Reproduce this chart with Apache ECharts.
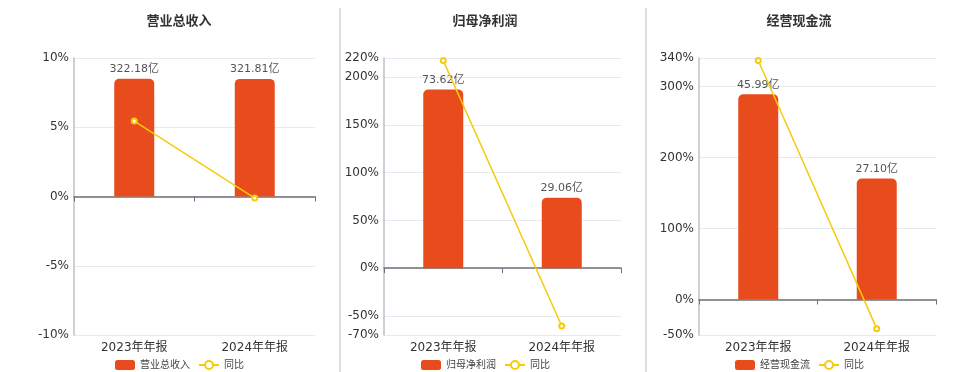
<!DOCTYPE html>
<html>
<head>
<meta charset="utf-8">
<script src="https://cdn.jsdelivr.net/npm/echarts@6/dist/echarts.min.js"></script>
<style>
html,body{margin:0;padding:0;background:#fff;}
#c{width:960px;height:372px;}
</style>
</head>
<body>
<div id="c"></div>
<script>
// ---- data ----
var categories = ['2023年年报', '2024年年报'];
var titles = ['营业总收入', '归母净利润', '经营现金流'];
var revenueValues = [322.18, 321.81];       // 亿
var netProfitValues = [73.62, 29.06];       // 亿
var cashFlowValues = [45.99, 27.10];        // 亿
var revenueYoY = [5.45, -0.11];             // %
var netProfitYoY = [217.3, -60.53];         // %
var cashFlowYoY = [336.5, -41.07];          // %
var pctAxisMin = [-10, -70, -50];
var pctAxisMax = [10, 220, 340];
var yoyName = '同比';

var barSets = [revenueValues, netProfitValues, cashFlowValues];
var yoySets = [revenueYoY, netProfitYoY, cashFlowYoY];

// ---- layout ----
var grids = [
  {left: 74, width: 241},
  {left: 384, width: 237},
  {left: 699, width: 237}
];
var centers = [174, 480, 794];
var legendLeft = [110, 416, 730];
var BAR = '#E94C1C', LINE = '#F5CB0C';
var FONT = "'DejaVu Sans', 'Noto Sans CJK SC', sans-serif";

var option = {
  animation: false,
  backgroundColor: '#fff',
  textStyle: {fontFamily: FONT},
  title: [], legend: [], grid: [], xAxis: [], yAxis: [], series: [],
  graphic: [
    {type: 'line', shape: {x1: 340, y1: 8, x2: 340, y2: 372}, style: {stroke: '#D3D3D3', lineWidth: 1.5}},
    {type: 'line', shape: {x1: 646, y1: 8, x2: 646, y2: 372}, style: {stroke: '#D3D3D3', lineWidth: 1.5}}
  ]
};

for (var i = 0; i < 3; i++) {
  var bars = barSets[i];
  var barMax = Math.max.apply(null, bars);
  var bMax = barMax / 0.85;
  var bMin = bMax * pctAxisMin[i] / pctAxisMax[i];

  option.title.push({
    text: titles[i], left: centers[i], top: 10, textAlign: 'center',
    textStyle: {fontSize: 13, fontWeight: 'bold', color: '#333', fontFamily: FONT}
  });
  option.legend.push({
    data: [titles[i], yoyName], left: legendLeft[i], top: 355,
    itemWidth: 20, itemHeight: 10, itemGap: 8,
    textStyle: {fontSize: 10, color: '#444'},
    selectedMode: false
  });
  option.grid.push({left: grids[i].left, width: grids[i].width, top: 58, height: 277});

  // label x-axis at bottom
  option.xAxis.push({
    type: 'category', gridIndex: i, data: categories, position: 'bottom',
    axisLine: {show: false, onZero: false}, axisTick: {show: false},
    axisLabel: {fontSize: 12, color: '#333', margin: 7}
  });
  // zero line x-axis
  option.xAxis.push({
    type: 'category', gridIndex: i, data: categories, position: 'bottom',
    axisLine: {show: true, onZero: true, onZeroAxisIndex: i * 2, lineStyle: {color: '#6E7079', width: 1.5}},
    axisTick: {show: true, length: 5, lineStyle: {color: '#6E7079'}},
    axisLabel: {show: false}
  });

  // percent axis
  option.yAxis.push({
    type: 'value', gridIndex: i, min: pctAxisMin[i], max: pctAxisMax[i],
    axisLine: {show: true, lineStyle: {color: '#BCC0CA', width: 1.5}},
    axisTick: {show: false},
    axisLabel: {fontSize: 12, color: '#333', margin: 5, formatter: '{value}%'},
    splitLine: {show: true, lineStyle: {color: '#E6EAF3'}}
  });
  // hidden bar axis
  option.yAxis.push({
    type: 'value', gridIndex: i, min: bMin, max: bMax, show: false,
    splitLine: {show: false}
  });

  option.series.push({
    name: titles[i], type: 'bar', xAxisIndex: i * 2, yAxisIndex: i * 2 + 1,
    data: bars, barWidth: 40, z: 2,
    itemStyle: {color: BAR, borderRadius: [5, 5, 0, 0]},
    label: {show: true, position: 'top', distance: 4, fontSize: 11, color: '#555',
      formatter: function (p) { return p.value.toFixed(2) + '亿'; }}
  });
  option.series.push({
    name: yoyName, type: 'line', xAxisIndex: i * 2, yAxisIndex: i * 2,
    data: yoySets[i], z: 5,
    symbol: 'emptyCircle', symbolSize: 5,
    lineStyle: {color: LINE, width: 1.5},
    itemStyle: {color: LINE, borderWidth: 1.5}
  });
}

var chart = echarts.init(document.getElementById('c'), null, {renderer: 'canvas'});
chart.setOption(option);
</script>
</body>
</html>
